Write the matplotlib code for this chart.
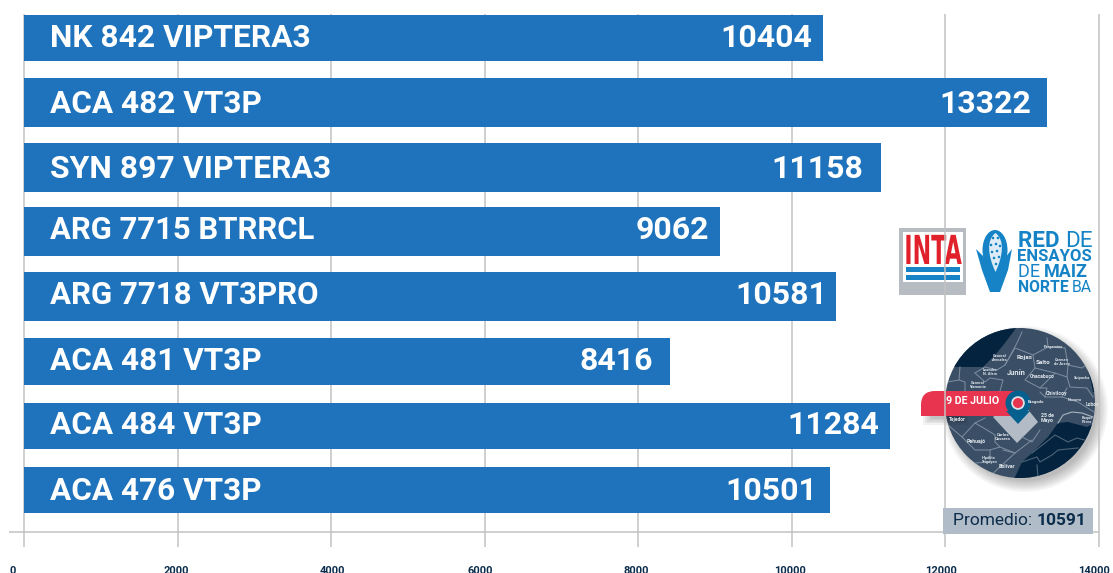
import numpy as np
import matplotlib
matplotlib.use("Agg")
import matplotlib.pyplot as plt
from matplotlib.patches import Circle, Rectangle, Polygon, PathPatch, Ellipse
from matplotlib.path import Path
from matplotlib.patheffects import AbstractPathEffect
from matplotlib.transforms import Affine2D

hybrids = ["NK 842 VIPTERA3", "ACA 482 VT3P", "SYN 897 VIPTERA3", "ARG 7715 BTRRCL",
           "ARG 7718 VT3PRO", "ACA 481 VT3P", "ACA 484 VT3P", "ACA 476 VT3P"]
yields = [10404, 13322, 11158, 9062, 10581, 8416, 11284, 10501]
ticks = [0, 2000, 4000, 6000, 8000, 10000, 12000, 14000]
average = 10591

# layout of the rows in the original, in pixels
bar_tops = np.array([15, 78, 143, 207, 272, 338, 403, 467])
bar_bottoms = np.array([61, 127, 192, 256, 320.7, 384.7, 448.7, 512.7])
baselines = [47, 113, 178, 239, 304, 370, 434, 500]
name_sizes = [22.85, 22.7, 22.95, 22.35, 22.5, 22.7, 22.7, 22.7]
value_gaps = [10.9, 15.8, 17.7, 10.8, 9.2, 17.2, 11.2, 13.2]
tick_shifts = [-11, -1, 1.5, -4, -2, -2, -4, -4.7]

W, H = 1113, 573
BLUE = "#1e73bc"
NAVY = "#0c2c4b"
GRID = "#c2c2c2"
LOGO = "#1583c6"
MAP = "#3a4f66"
DARK = "#04233f"
RED = "#e8344e"
plt.rcParams["font.family"] = ["Roboto", "DejaVu Sans"]


class Stretch(AbstractPathEffect):
    def __init__(self, sy):
        self.sy = sy

    def draw_path(self, renderer, gc, tpath, affine, rgbFace=None):
        renderer.draw_path(gc, tpath, Affine2D().scale(1, self.sy) + affine, rgbFace)


fig = plt.figure(figsize=(W / 100, H / 100), dpi=100)

# logos and map sit under the grid lines
ov = fig.add_axes([0, 0, 1, 1], zorder=1)
ov.set_xlim(0, W)
ov.set_ylim(H, 0)
ov.axis("off")

ax = fig.add_axes([0, 0, 1, 1], zorder=2)
px_per_unit = (1098.7 - 24) / 14000
ax.set_xlim(-24 / px_per_unit, (W - 24) / px_per_unit)
ax.set_ylim(H, 0)
ax.axis("off")

ax.vlines(ticks, 14, 547, color=GRID, lw=1.1, zorder=1)
ax.hlines(532, -15 / px_per_unit, 14000, color=GRID, lw=1.1, zorder=1)
for t, shift in zip(ticks, tick_shifts):
    ax.text(t + shift / px_per_unit, 574, str(t), ha="center", va="baseline",
            fontsize=8, fontweight="bold", color=NAVY)

ax.barh((bar_tops + bar_bottoms) / 2, yields, height=bar_bottoms - bar_tops, color=BLUE, zorder=2)
for name, v, base, size, gap in zip(hybrids, yields, baselines, name_sizes, value_gaps):
    ax.text(26 / px_per_unit, base, name, color="white", fontsize=size, fontweight="bold",
            va="baseline", zorder=3)
    ax.text(v - gap / px_per_unit, base, str(v), color="white", fontsize=23, fontweight="bold",
            va="baseline", ha="right", zorder=3)

# INTA logo
ov.add_patch(Rectangle((899, 228), 67, 67, color="#b7bbc2", lw=0))
ov.add_patch(Rectangle((903, 232), 60, 50, color="white", lw=0))
ov.text(933, 264, "INTA", color="#e0202b", fontsize=16, fontweight="bold",
        family="Liberation Sans Narrow", ha="center", va="baseline", path_effects=[Stretch(1.8)])
ov.add_patch(Rectangle((906, 267), 54, 5, color=LOGO, lw=0))
ov.add_patch(Rectangle((906, 275), 54, 5, color=LOGO, lw=0))

# corn logo
ov.add_patch(Ellipse((995, 250), 25, 40, color=LOGO, lw=0))
ov.add_patch(Polygon([(976, 249), (985, 258), (995, 268), (1005, 258), (1012, 249),
                      (1008, 270), (1000, 292), (990, 292), (982, 270)], color=LOGO, lw=0))
ov.add_patch(PathPatch(Path([(995.5, 233), (1005, 240), (1003, 256), (995.5, 272), (988, 256), (986, 240), (995.5, 233)],
                            [1, 4, 4, 4, 4, 4, 4]), fc="#dcebf5", lw=0))
for kx, ky in [(993, 238), (998, 238), (991, 245), (996, 244), (1000, 246), (992, 252),
               (997, 251), (994, 258), (999, 257), (996, 264)]:
    ov.add_patch(Circle((kx, ky), 1.3, color=LOGO, lw=0))
logo_lines = [(247, "RED ", "DE", 16.2, "bold", "normal"), (261, "ENSAYOS", "", 12, "bold", "bold"),
              (277, "DE ", "MAIZ", 13, "normal", "bold"), (292, "NORTE ", "BA", 11.3, "bold", "normal")]
for base, a, b, fs, w1, w2 in logo_lines:
    t = ov.text(1017.5, base, a, color=LOGO, fontsize=fs, va="baseline", fontweight=w1)
    if b:
        ov.annotate(b, xycoords=t, xy=(1, 0), va="bottom", color=LOGO, fontsize=fs, fontweight=w2)

# map
cx, cy, rad = 1020, 403, 75
for i in range(9):
    ov.add_patch(Circle((cx + 5, cy + 6), rad + 8 - i * 1.4, color="black", alpha=0.03, lw=0))
disc = Circle((cx, cy), rad, color=MAP, lw=0)
ov.add_patch(disc)
dark_parts = [[(940, 320), (1022, 320), (1005, 343), (995, 355), (983, 367), (940, 367)],
              [(1010, 482), (1015, 477), (1022, 462), (1032, 453), (1048, 437), (1058, 423),
               (1068, 422), (1087, 427), (1100, 420), (1100, 482)],
              [(1068, 342), (1076, 348), (1085, 362), (1090, 378), (1093, 392), (1100, 392), (1100, 335)]]
for part in dark_parts:
    p = Polygon(part, color=DARK, lw=0)
    ov.add_patch(p)
    p.set_clip_path(disc)
borders = [[(960, 367), (959, 380), (947, 382)], [(959, 380), (965, 382), (965, 391)],
           [(975, 373), (985, 367), (997, 370), (1005, 365), (1017, 343), (1022, 332)],
           [(975, 373), (985, 382), (990, 378), (1003, 380), (1000, 391)],
           [(1005, 365), (1015, 348), (1033, 355), (1048, 347), (1047, 338)],
           [(1033, 355), (1035, 368), (1025, 380), (1040, 388), (1055, 373), (1067, 377),
            (1068, 365), (1082, 368), (1090, 362)],
           [(1048, 347), (1065, 348), (1068, 365)], [(1035, 368), (1055, 373)],
           [(1067, 377), (1070, 387), (1087, 388), (1093, 397)],
           [(1040, 388), (1047, 388), (1045, 397), (1062, 397), (1067, 388)],
           [(1062, 397), (1078, 402), (1094, 412)], [(1045, 397), (1040, 392)],
           [(948, 425), (962, 437), (975, 423), (985, 418)],
           [(975, 423), (987, 430), (995, 435), (995, 442), (1000, 447), (990, 450), (990, 462), (975, 463)],
           [(962, 437), (975, 450), (990, 450)], [(1003, 450), (1015, 453), (1032, 440)],
           [(1000, 447), (1015, 453)], [(988, 478), (1015, 453)], [(1022, 437), (1032, 442), (1040, 430)]]
for b in borders:
    line, = ov.plot(*zip(*b), color="#7f8fa1", lw=0.7)
    line.set_clip_path(disc)
inner_lines = [[(1032, 453), (1045, 443), (1055, 435), (1068, 442), (1077, 438), (1092, 442)],
               [(1022, 462), (1037, 457), (1040, 462), (1052, 455), (1058, 450), (1078, 448)],
               [(1037, 465), (1038, 478)]]
for b in inner_lines:
    line, = ov.plot(*zip(*b), color="#4d6478", lw=0.8)
    line.set_clip_path(disc)
island, = ov.plot([1058, 1063, 1072, 1082, 1093], [423, 415, 412, 413, 417], color="#a9b4be", lw=0.8)
island.set_clip_path(disc)
ov.add_patch(Polygon([(993, 417), (1018, 397), (1038, 422), (1017, 443)], color="#b3bcc6", lw=0))
places = [("Rojas", 1025, 357, 4.6), ("Salto", 1043, 362, 4.6), ("Junín", 1016, 373, 5.4),
          ("Chacabuco", 1042, 377, 3.6), ("Chivilcoy", 1057, 393, 3.8), ("Lobos", 1092, 405, 3.6),
          ("25 de\nMayo", 1047, 418, 3.8), ("Pehuajó", 976, 442, 3.8), ("Bolívar", 1007, 466, 3.8),
          ("Tejedor", 957, 419, 3.6), ("Carlos\nCasares", 1003, 437, 3.2), ("Bragado", 1036, 402, 3.2),
          ("Hipólito\nYrigoyen", 989, 460, 2.8), ("Leandro\nN. Alem", 990, 372, 2.8),
          ("General\nArenales", 1000, 358, 2.8), ("General\nViamonte", 978, 385, 2.8),
          ("Roque\nPérez", 1087, 420, 2.8), ("Suipacha", 1082, 378, 2.8), ("Navarro", 1075, 400, 2.8),
          ("Carmen\nde Areco", 1062, 362, 2.8), ("Pergamino", 1053, 347, 2.8)]
for name, x, y, fs in places:
    ov.text(x, y, name, color="#dfe4ea", fontsize=fs, fontweight="bold",
            ha="center", va="center", linespacing=0.9)

# red flag and pin
for i in range(5):
    ov.add_patch(Rectangle((923 + i * 2, 416), 45 - i * 4, 9 - i * 1.6, color="black", alpha=0.05, lw=0))
ov.add_patch(PathPatch(Path([(921, 416), (921, 405), (921, 391), (935, 391), (1016, 391), (1016, 416), (921, 416)],
                            [1, 2, 3, 3, 2, 2, 79]), fc=RED, lw=0))
ov.text(946, 401.5, "9 DE JULIO", color="white", fontsize=7.7, fontweight="bold", va="center")
ov.add_patch(Polygon([(1006, 411), (1018, 424), (1030, 411)], color="#05608f", lw=0))
ov.add_patch(Circle((1018, 403), 12.5, color="#05608f", lw=0))
ov.add_patch(Circle((1018, 403), 6.8, color="#dce3e8", lw=0))
ov.add_patch(Circle((1018, 403), 5, color=RED, lw=0))

# average box covers the grid
ax.add_patch(Rectangle((943, 508), 150, 26, color="#b0bcc7", lw=0, zorder=4, transform=ov.transData))
t = ax.text(953, 525, "Promedio: ", color=NAVY, fontsize=12.5, va="baseline", zorder=5, transform=ov.transData)
ax.annotate(str(average), xycoords=t, xy=(1, 0), va="bottom", color=NAVY, fontsize=12.5,
            fontweight="bold", zorder=5)

fig.savefig("out.png", dpi=100)
